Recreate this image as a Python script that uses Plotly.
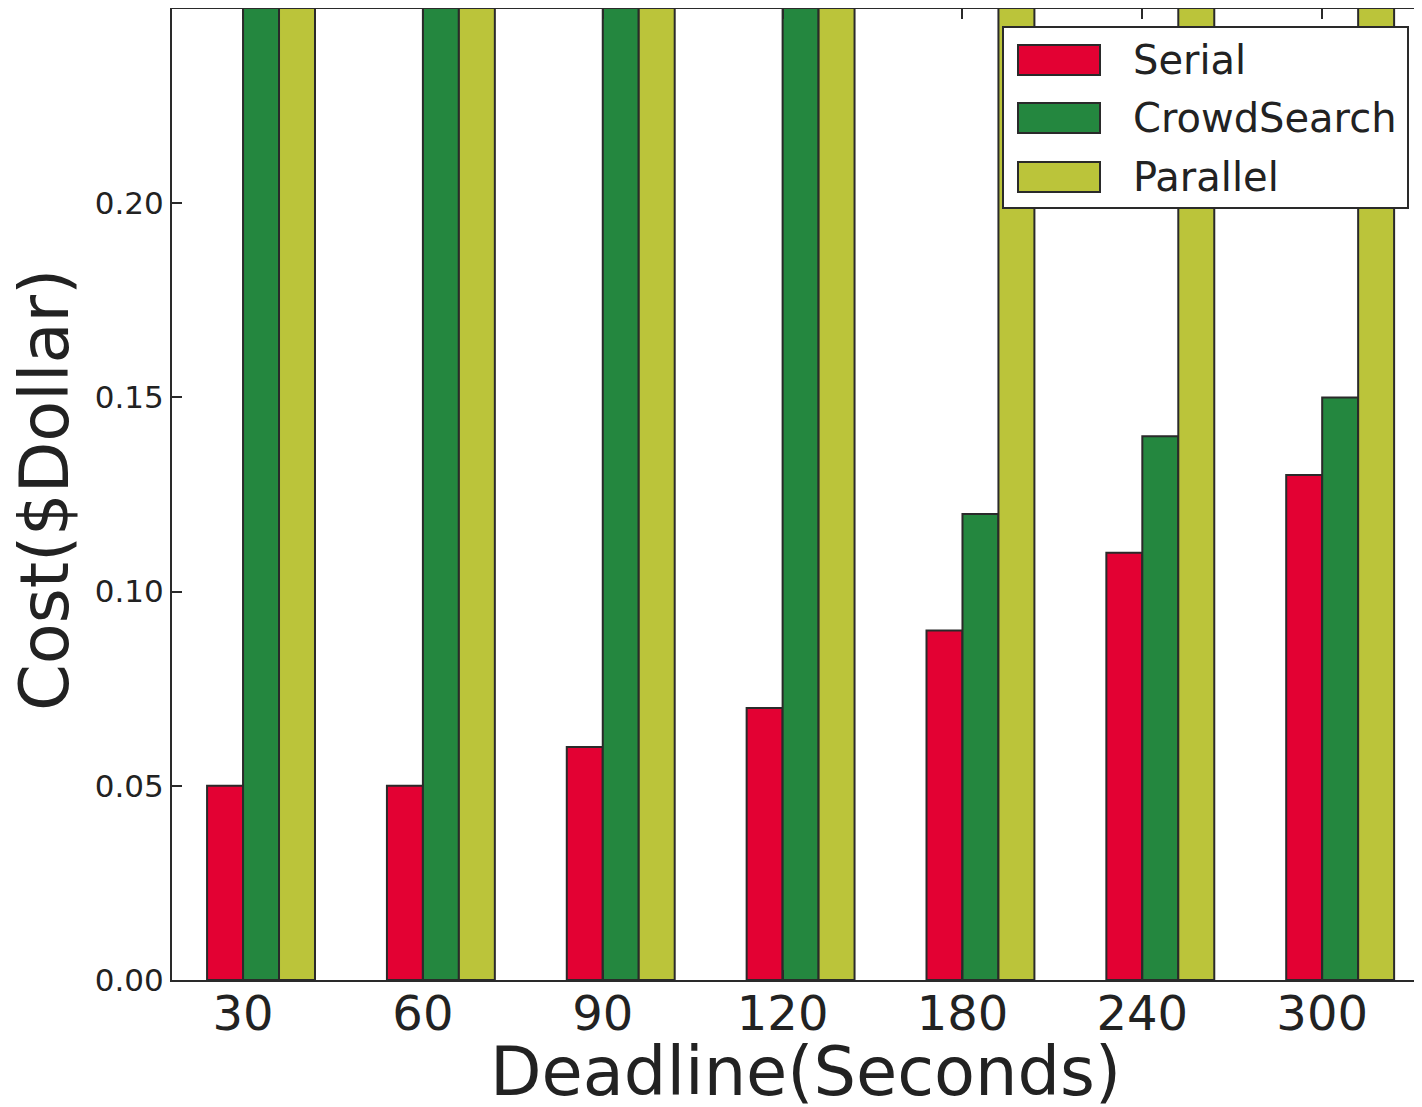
import plotly.graph_objects as go

# ---- data ----
deadlines = ["30", "60", "90", "120", "180", "240", "300"]
serial = [0.05, 0.05, 0.06, 0.07, 0.09, 0.11, 0.13]
# bars that run past the top of the axis (clipped in the reference) use an estimated value above the range
crowdsearch = [0.30, 0.30, 0.30, 0.30, 0.12, 0.14, 0.15]
parallel = [0.40, 0.40, 0.40, 0.40, 0.40, 0.40, 0.40]
series_names = ["Serial", "CrowdSearch", "Parallel"]
y_ticks = [0.00, 0.05, 0.10, 0.15, 0.20]

colors = ["#E30133", "#24873F", "#BBC43A"]
edge = "#2a2a2a"
txt = "#222222"
FONT = "DejaVu Sans"

# the page body adds an 8px offset, so the figure is drawn 8px smaller
OFF = 8
W, H = 1422 - OFF, 1107 - OFF
# plot area in screenshot pixels
L, R, T, B = 172, 1422, 9, 980


def px(x):
    return (x - L) / (R - L)


def py(y):
    return (B - y) / (B - T)


fig = go.Figure()
bar_w = 0.2
for vals, name, col, off in zip([serial, crowdsearch, parallel], series_names, colors, [-0.2, 0.0, 0.2]):
    fig.add_trace(go.Bar(
        x=deadlines, y=vals, name=name, width=bar_w, offset=off,
        marker=dict(color=col, line=dict(color=edge, width=2)),
        showlegend=False,
    ))

# invisible trace for the right-hand tick axis
fig.add_trace(go.Scatter(x=[deadlines[0]], y=[None], yaxis="y2", showlegend=False, hoverinfo="skip"))

fig.update_layout(
    width=W, height=H,
    margin=dict(l=L - OFF, r=1422 - R, t=T - OFF, b=1107 - B, autoexpand=False),
    paper_bgcolor="white", plot_bgcolor="white",
    barmode="overlay",
    font=dict(family=FONT, color=txt),
    xaxis=dict(
        type="category", categoryorder="array", categoryarray=deadlines,
        range=[-0.395, 6.555],
        showline=True, linecolor=edge, linewidth=2, mirror="ticks",
        ticks="inside", ticklen=10, tickwidth=2, tickcolor=edge,
        ticklabelstandoff=-10,
        showgrid=False, zeroline=False,
        tickfont=dict(size=48, color=txt, family=FONT),
        automargin=False,
    ),
    yaxis=dict(
        range=[0, 0.25], tickvals=y_ticks, tickformat=".2f",
        showline=True, linecolor=edge, linewidth=2,
        ticks="inside", ticklen=10, tickwidth=2, tickcolor=edge,
        showgrid=False, zeroline=False,
        tickfont=dict(size=31, color=txt, family=FONT),
        automargin=False,
    ),
    yaxis2=dict(
        overlaying="y", side="right", range=[0, 0.25], tickvals=y_ticks,
        showline=False, showticklabels=False, showgrid=False, zeroline=False,
        ticks="inside", ticklen=4, tickwidth=2, tickcolor=edge,
    ),
)

# axis titles
fig.add_annotation(text="Deadline(Seconds)", xref="paper", yref="paper",
                   x=px(805), y=py(1072), xanchor="center", yanchor="middle",
                   showarrow=False, font=dict(size=67, color=txt, family=FONT))
fig.add_annotation(text="Cost($Dollar)", xref="paper", yref="paper",
                   x=px(45), y=py(490), xanchor="center", yanchor="middle", textangle=-90,
                   showarrow=False, font=dict(size=67, color=txt, family=FONT))

# legend drawn as a framed box
fig.add_shape(type="rect", xref="paper", yref="paper",
              x0=px(1003), x1=px(1408), y0=py(208), y1=py(27),
              line=dict(color=edge, width=2), fillcolor="white", layer="above")
row_centers = [60, 118, 177]
for name, col, c in zip(series_names, colors, row_centers):
    fig.add_shape(type="rect", xref="paper", yref="paper",
                  x0=px(1018), x1=px(1100), y0=py(c + 15), y1=py(c - 15),
                  line=dict(color=edge, width=2), fillcolor=col, layer="above")
    fig.add_annotation(text=name, xref="paper", yref="paper",
                       x=px(1131), y=py(c), xanchor="left", yanchor="middle",
                       showarrow=False, font=dict(size=40, color=txt, family=FONT))

fig.write_html("out.html")
